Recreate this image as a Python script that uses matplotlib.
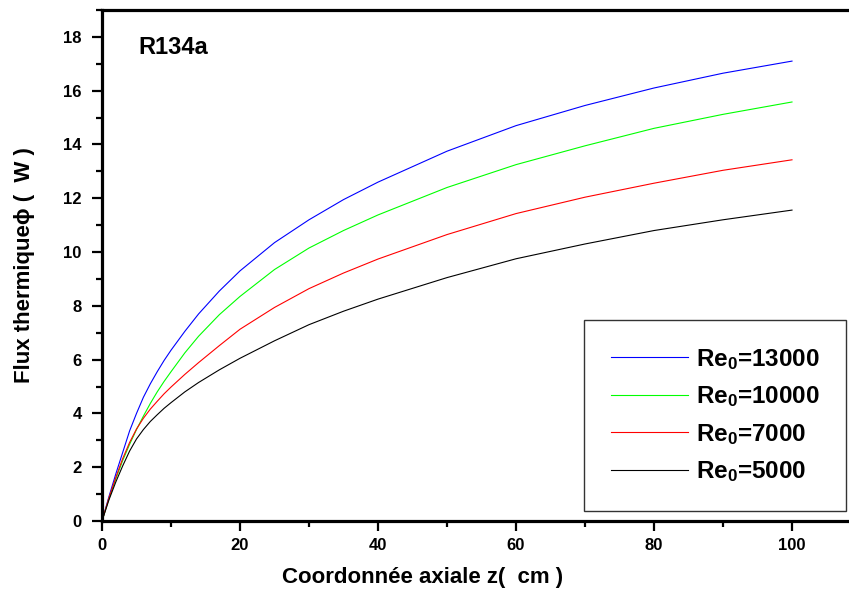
import matplotlib
matplotlib.use("Agg")
import matplotlib.pyplot as plt
from matplotlib.ticker import MultipleLocator

plt.rcParams["font.family"] = ["Liberation Sans", "DejaVu Sans"]
plt.rcParams["font.weight"] = "bold"
plt.rcParams["mathtext.default"] = "regular"

# axial coordinate (cm)
z = [0, 1, 2, 3, 4, 5, 6, 7, 8, 9, 10, 12, 14, 17, 20, 25, 30, 35, 40,
     50, 60, 70, 80, 90, 100]

# heat flux (W) for each inlet Reynolds number
flux_13000 = [0, 0.90, 1.75, 2.55, 3.35, 4.00, 4.60, 5.10, 5.55, 5.97, 6.35,
              7.05, 7.70, 8.55, 9.30, 10.35, 11.20, 11.95, 12.60, 13.75,
              14.70, 15.45, 16.10, 16.65, 17.10]
flux_10000 = [0, 0.82, 1.57, 2.25, 2.85, 3.40, 3.90, 4.37, 4.80, 5.19, 5.55,
              6.25, 6.87, 7.67, 8.35, 9.35, 10.15, 10.80, 11.38, 12.40,
              13.25, 13.95, 14.60, 15.12, 15.58]
flux_7000 = [0, 0.85, 1.62, 2.32, 2.92, 3.42, 3.82, 4.16, 4.45, 4.73, 4.98,
             5.45, 5.89, 6.52, 7.13, 7.94, 8.64, 9.22, 9.74, 10.65, 11.43,
             12.04, 12.56, 13.04, 13.43]
flux_5000 = [0, 0.78, 1.45, 2.05, 2.60, 3.05, 3.40, 3.70, 3.95, 4.19, 4.40,
             4.80, 5.15, 5.62, 6.05, 6.70, 7.30, 7.80, 8.25, 9.05, 9.75,
             10.30, 10.80, 11.20, 11.56]

series = [
    ("Re$_0$=13000", flux_13000, "#0000ff"),
    ("Re$_0$=10000", flux_10000, "#00ff00"),
    ("Re$_0$=7000", flux_7000, "#ff0000"),
    ("Re$_0$=5000", flux_5000, "#000000"),
]

fig = plt.figure(figsize=(8.49, 5.99), dpi=100)
# the frame runs past the right edge of the figure
ax = fig.add_axes([102 / 849, 78 / 599, 759 / 849, 511 / 599])

for label, values, color in series:
    ax.plot(z, values, color=color, linewidth=0.8, label=label)

ax.set_xlim(0, 110)
ax.set_ylim(0, 19)
ax.xaxis.set_major_locator(MultipleLocator(20))
ax.xaxis.set_minor_locator(MultipleLocator(10))
ax.yaxis.set_major_locator(MultipleLocator(2))
ax.yaxis.set_minor_locator(MultipleLocator(1))

for side in ["left", "bottom", "top", "right"]:
    ax.spines[side].set_linewidth(2.3)

ax.tick_params(which="major", direction="out", length=7.5, width=1.6,
               labelsize=12, top=False, right=False)
ax.tick_params(which="minor", direction="out", length=4, width=1.6,
               top=False, right=False)
ax.tick_params(axis="x", which="major", pad=5)
ax.tick_params(axis="y", which="major", pad=7)

fig.text(423 / 849, 1 - 578 / 599, "Coordonnée axiale z(  cm )",
         ha="center", va="center", fontsize=16, fontweight="bold")
fig.text(25 / 849, 1 - 265 / 599, "Flux thermique\u03d5 (  W )",
         ha="center", va="center", rotation=90, fontsize=16,
         fontweight="bold")

fig.text(138 / 849, 1 - 48 / 599, "R134a", fontsize=17, fontweight="bold",
         ha="left", va="center")

leg = ax.legend(loc="lower left", bbox_to_anchor=(482 / 759, 10 / 511),
                prop={"size": 17.5, "weight": "bold"}, frameon=True,
                fancybox=False, handlelength=3.17, handletextpad=0.33,
                labelspacing=0.52, borderpad=1.1, borderaxespad=0)
leg.get_frame().set_edgecolor("black")
leg.get_frame().set_linewidth(1.0)

fig.savefig("out.png", dpi=100)
